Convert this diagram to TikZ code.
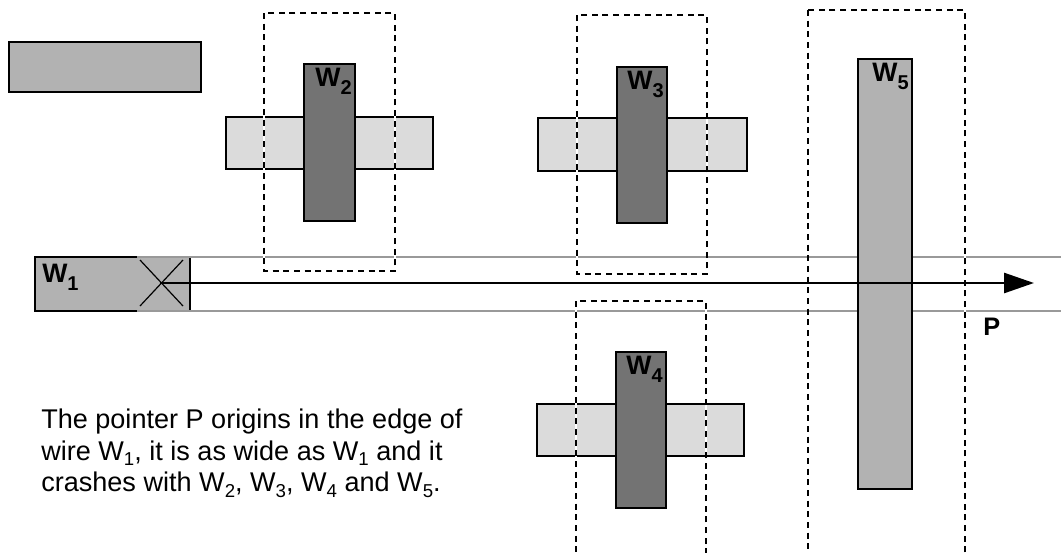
\documentclass[tikz,border=0pt]{standalone}
\usepackage{fontspec}
\setmainfont{Liberation Sans}
\usetikzlibrary{arrows.meta,positioning}

\newcommand{\wname}[1]{W\raisebox{-0.55ex}{\fontsize{15}{15}\selectfont #1}}
\newcommand{\wtext}[1]{W\raisebox{-0.4ex}{\fontsize{14}{14}\selectfont #1}}

\tikzset{
  lightwire/.style={draw=black, fill=black!14, line width=0.9pt},
  midwire/.style={draw=black, fill=black!30, line width=0.9pt},
  darkwire/.style={draw=black, fill=black!55, line width=0.9pt},
  window/.style={draw=black, line width=0.8pt, dash pattern=on 4.5pt off 3.5pt},
  windowbg/.style={draw=white, line width=0.8pt},
  corridor/.style={draw=black!40, line width=1.1pt},
  wlabel/.style={font=\bfseries\fontsize{20}{20}\selectfont, inner sep=1.5pt, anchor=north east},
}

\begin{document}
\begin{tikzpicture}[x=0.75pt, y=-0.75pt]
  \useasboundingbox (0,0) rectangle (1061,553);

  % Wires
  \draw[midwire] (9,42) rectangle (201,92);
  \fill[black!30] (35,257) rectangle (190,311);
  \draw[black, line width=0.9pt] (137,257) -- (35,257) -- (35,311) -- (137,311);
  \draw[black, line width=0.9pt] (190,257) -- (190,311);

  % Pointer corridor
  \draw[corridor] (137,257) -- (1061,257);
  \draw[corridor] (137,311) -- (1061,311);

  \draw[lightwire] (226,117) rectangle (433,169);
  \draw[darkwire] (304,64) rectangle (355,221);
  \draw[lightwire] (538,118) rectangle (747,171);
  \draw[darkwire] (617,67) rectangle (667,223);
  \draw[lightwire] (537,404) rectangle (744,456);
  \draw[darkwire] (616,352) rectangle (666,508);
  \draw[midwire] (858,59) rectangle (912,489);

  % Windows
  \foreach \xa/\ya/\xb/\yb in {264/13/395/271, 577/15/707/274, 576/301/706/560, 808/10/965/560} {
    \draw[windowbg] (\xa,\ya) rectangle (\xb,\yb);
    \draw[window] (\xa,\ya) rectangle (\xb,\yb);
  }

  % Labels
  \node[wlabel] (l2) at (354,66) {\wname{2}};
  \node[wlabel] (l3) at (666,69) {\wname{3}};
  \node[wlabel] (l4) at (665,354) {\wname{4}};
  \node[wlabel] (l5) at (911,61) {\wname{5}};
  \node[font=\bfseries\fontsize{20}{20}\selectfont, inner sep=0pt, anchor=north west] (l1) at (42,264) {\wname{1}};

  % Pointer
  \coordinate (p0) at (160,283);
  \coordinate (p1) at (1034,283);
  \draw[line width=0.9pt] (140,260) -- (183,306);
  \draw[line width=0.9pt] (140,306) -- (183,260);
  \draw[line width=2pt, -{Triangle[length=22.5pt,width=15pt]}] (p0) -- (p1);
  \node[font=\bfseries\fontsize{19}{19}\selectfont, inner sep=0pt, anchor=north west] (lp) at (983,318) {P};

  % Note
  \node[anchor=north west, align=left, inner sep=0pt,
        font=\fontsize{20.3}{23.5}\selectfont] (note) at (41,409)
    {The pointer P origins in the edge of\\
     wire \wtext{1}, it is as wide as \wtext{1} and it\\
     crashes with \wtext{2}, \wtext{3}, \wtext{4} and \wtext{5}.};
\end{tikzpicture}
\end{document}
